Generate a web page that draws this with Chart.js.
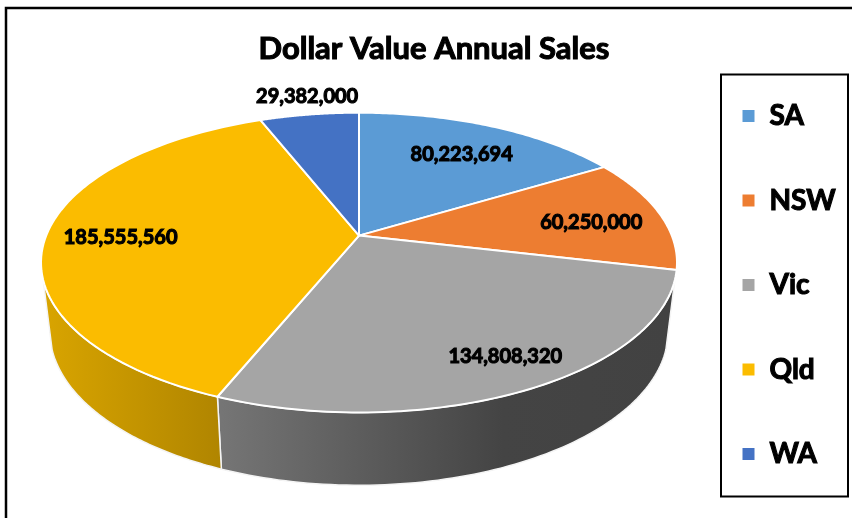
<!DOCTYPE html>
<html>
<head>
<meta charset="utf-8">
<style>
  html, body { margin: 0; padding: 0; background: #fff; }
  #wrap { width: 852px; height: 518px; }
  canvas { filter: blur(0.45px); }
</style>
<script src="https://cdn.jsdelivr.net/npm/chart.js@4/dist/chart.umd.min.js"></script>
</head>
<body>
<div id="wrap"><canvas id="salesChart" width="852" height="518"></canvas></div>
<script>
const regions = ['SA', 'NSW', 'Vic', 'Qld', 'WA'];
const annualSales = [80223694, 60250000, 134808320, 185555560, 29382000];
const sliceColors = ['#5b9bd5', '#ed7d31', '#a5a5a5', '#fbbc00', '#4472c4'];
const chartTitle = 'Dollar Value Annual Sales';

// where the value labels sit, as fraction of the radius and turn off the slice middle (degrees)
const labelFrac = [0.72, 0.76, 0.83, 0.76, 1.18];
const labelTurn = [1, 2.1, -2, -1.5, 1];

// perspective of the 3d pie
const lean = 0.18;
const squash = 0.4636;
const wallFrom = (107 - 90) * Math.PI / 180; // outline of the side wall, canvas angles
const wallTo = (253 - 90) * Math.PI / 180;
const floor = { scaleX: 0.972, scaleY: 1.027, drop: 68 };

function project(arc, angle, frac) {
  const X = Math.cos(angle) * frac;
  const Y = Math.sin(angle) * frac;
  const w = 1 - lean * Y;
  return {
    x: arc.outerRadius * X / w,
    y: arc.outerRadius * squash * Y / w,
  };
}

function rimPoints(arc, from, to) {
  const pts = [];
  const steps = 80;
  for (let i = 0; i <= steps; i++) {
    pts.push(project(arc, from + (to - from) * i / steps, 1));
  }
  return pts;
}

function wallGradient(ctx, index, arc) {
  const left = arc.x - arc.outerRadius;
  const span = arc.outerRadius * 2;
  const g = ctx.createLinearGradient(left, 0, left + span, 0);
  if (index === 3) {
    g.addColorStop(0, '#d8a400');
    g.addColorStop(0.28, '#b08500');
    g.addColorStop(1, '#b08500');
  } else {
    g.addColorStop(0, '#777777');
    g.addColorStop(0.28, '#757575');
    g.addColorStop(0.73, '#444444');
    g.addColorStop(1, '#424242');
  }
  return g;
}

function drawWall(ctx, arc, index) {
  const from = Math.max(arc.startAngle, wallFrom);
  const to = Math.min(arc.endAngle, wallTo);
  if (to <= from) return;
  const pts = rimPoints(arc, from, to);
  ctx.beginPath();
  pts.forEach((p, i) => {
    if (i === 0) ctx.moveTo(arc.x + p.x, arc.y + p.y);
    else ctx.lineTo(arc.x + p.x, arc.y + p.y);
  });
  pts.slice().reverse().forEach((p) => {
    ctx.lineTo(arc.x + p.x * floor.scaleX, arc.y + floor.drop + p.y * floor.scaleY);
  });
  ctx.closePath();
  ctx.fillStyle = wallGradient(ctx, index, arc);
  ctx.fill();
  ctx.strokeStyle = '#f4f4f4';
  ctx.lineWidth = 1.5;
  ctx.stroke();
}

function drawTop(ctx, arc, index) {
  const pts = rimPoints(arc, arc.startAngle, arc.endAngle);
  ctx.beginPath();
  ctx.moveTo(arc.x, arc.y);
  pts.forEach((p) => ctx.lineTo(arc.x + p.x, arc.y + p.y));
  ctx.closePath();
  ctx.fillStyle = sliceColors[index];
  ctx.fill();
  ctx.strokeStyle = '#fff';
  ctx.lineWidth = 2;
  ctx.lineJoin = 'round';
  ctx.stroke();
}

const pie3d = {
  id: 'pie3d',
  beforeLayout(chart) {
    // legend has to stay one column although the plot leaves room below
    const legend = chart.legend;
    if (legend.tallFit) return;
    const fit = legend.fit;
    legend.fit = function () {
      this.maxHeight = 518;
      fit.call(this);
    };
    legend.tallFit = true;
    // all text in the original is smeared heavier than any installed bold
    const ctx = chart.ctx;
    const fillText = ctx.fillText;
    ctx.fillText = function (text, x, y) {
      fillText.call(this, text, x, y);
      this.save();
      this.strokeStyle = '#000';
      this.lineWidth = 1.1;
      this.strokeText(text, x, y);
      this.restore();
    };
  },
  afterLayout(chart) {
    // legend box and title do not follow the plot in the original
    chart.legend.left = 685;
    chart.legend.right = 848;
    chart.legend.top = 45.5;
    chart.legend.bottom = 600; // draw() starts a new column past this
    chart.titleBlock.left = 20;
    chart.titleBlock.right = 848;
  },
  beforeDatasetDraw(chart, args) {
    const ctx = chart.ctx;
    const arcs = args.meta.data;
    ctx.save();
    arcs.forEach((arc, i) => drawWall(ctx, arc, i));
    arcs.forEach((arc, i) => drawTop(ctx, arc, i));
    ctx.restore();
    return false;
  },
  afterDatasetsDraw(chart) {
    const ctx = chart.ctx;
    ctx.save();
    ctx.font = 'bold 20px Lato';
    ctx.textAlign = 'center';
    ctx.textBaseline = 'middle';
    ctx.fillStyle = '#000';
    chart.getDatasetMeta(0).data.forEach((arc, i) => {
      const mid = (arc.startAngle + arc.endAngle) / 2 + labelTurn[i] * Math.PI / 180;
      const p = project(arc, mid, labelFrac[i]);
      ctx.fillText(annualSales[i].toLocaleString('en-US'), arc.x + p.x, arc.y + p.y);
    });
    ctx.restore();
  },
  afterDraw(chart) {
    const ctx = chart.ctx;
    ctx.save();
    ctx.strokeStyle = '#000';
    ctx.lineWidth = 2;
    ctx.strokeRect(721, 74.5, 127, 422);
    ctx.lineWidth = 2.5;
    ctx.beginPath();
    ctx.moveTo(6, 518);
    ctx.lineTo(6, 8);
    ctx.lineTo(852, 8);
    ctx.stroke();
    ctx.restore();
  },
};

new Chart(document.getElementById('salesChart'), {
  type: 'pie',
  data: {
    labels: regions,
    datasets: [{
      data: annualSales,
      backgroundColor: sliceColors,
      radius: 312.8,
    }],
  },
  options: {
    responsive: false,
    animation: false,
    layout: { padding: { left: 0, right: 4, top: 0, bottom: 114 } },
    plugins: {
      title: {
        display: true,
        text: chartTitle,
        color: '#000',
        font: { family: 'Lato', size: 31, weight: 'bold' },
        padding: { top: 30, bottom: 0 },
      },
      legend: {
        display: true,
        position: 'right',
        align: 'start',
        maxWidth: 130,
        labels: {
          color: '#000',
          boxWidth: 14,
          boxHeight: 14,
          padding: 56.5,
          font: { family: 'Lato', size: 28, weight: 'bold' },
        },
      },
      tooltip: { enabled: false },
    },
  },
  plugins: [pie3d],
});
</script>
</body>
</html>
